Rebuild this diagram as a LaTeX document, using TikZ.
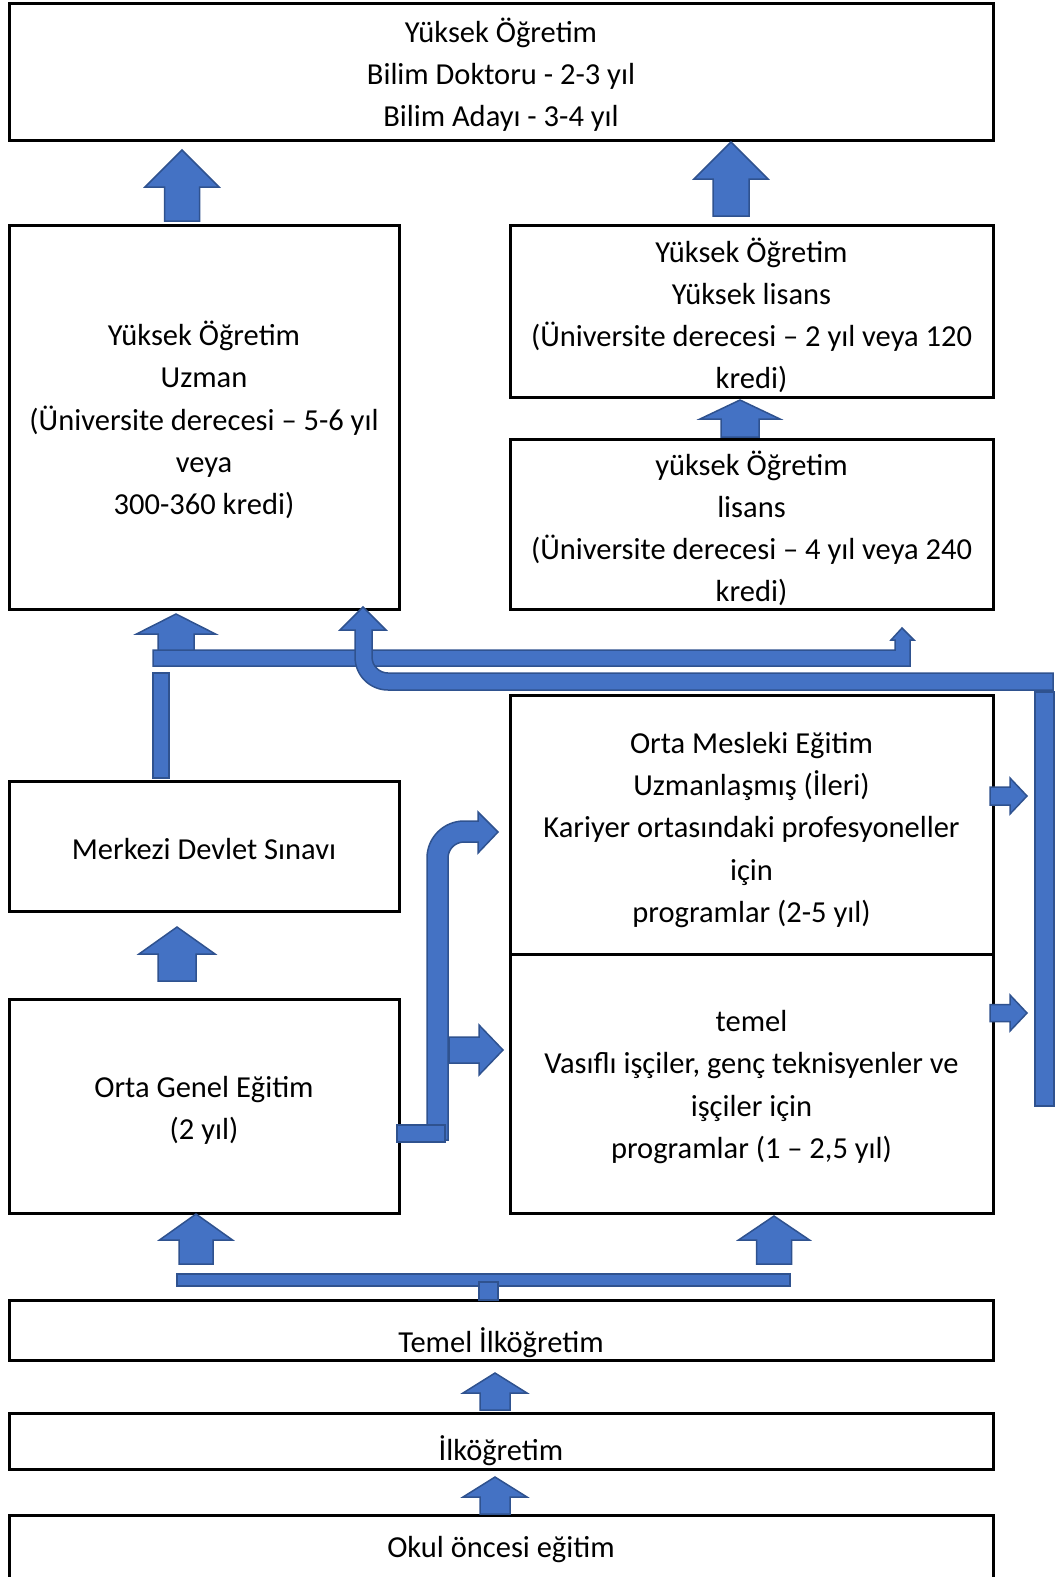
\documentclass[tikz,border=0pt]{standalone}
\usepackage{fontspec}
\setmainfont{Carlito}
\definecolor{arrfill}{HTML}{4472C4}
\definecolor{arrline}{HTML}{2F528F}
\newcommand{\UpBlk}[6]{\draw[blk] ({#1-#4},#6) -- ({#1-#4},#5) -- ({#1-#3},#5) -- (#1,#2) -- ({#1+#3},#5) -- ({#1+#4},#5) -- ({#1+#4},#6) -- cycle;}
\newcommand{\RtBlk}[6]{\draw[blk] (#6,{#1-#4}) -- (#5,{#1-#4}) -- (#5,{#1-#3}) -- (#2,#1) -- (#5,{#1+#3}) -- (#5,{#1+#4}) -- (#6,{#1+#4}) -- cycle;}
\begin{document}
\begin{tikzpicture}[x=1pt,y=-1pt,
  box/.style={draw=black, line width=3pt, inner sep=0pt, outer sep=0pt},
  txt/.style={align=center, inner sep=0pt, font=\fontsize{30.5pt}{42.2pt}\selectfont},
  blk/.style={fill=arrfill, draw=arrline, line width=1.5pt, line join=miter}]
\useasboundingbox (0,0) rectangle (1056,1577);
% boxes
\node[box, minimum width=984pt, minimum height=137pt] (T) at (501,71.5) {};
\node[txt] (Tt) at (501,74.5) {Yüksek Öğretim\\Bilim Doktoru - 2-3 yıl\\Bilim Adayı - 3-4 yıl};
\node[box, minimum width=390pt, minimum height=384pt] (U) at (204,417) {};
\node[txt] (Ut) at (204,420) {Yüksek Öğretim\\Uzman\\(Üniversite derecesi – 5-6 yıl\\veya\\300-360 kredi)};
\node[box, minimum width=483pt, minimum height=172pt] (YL) at (751.5,311) {};
\node[txt] (YLt) at (751.5,315.5) {Yüksek Öğretim\\Yüksek lisans\\(Üniversite derecesi – 2 yıl veya 120\\kredi)};
\node[box, minimum width=483pt, minimum height=170pt] (L) at (751.5,524) {};
\node[txt] (Lt) at (751.5,528.5) {yüksek Öğretim\\lisans\\(Üniversite derecesi – 4 yıl veya 240\\kredi)};
\node[box, minimum width=390pt, minimum height=130pt] (M) at (204,846) {};
\node[txt] (Mt) at (204,849) {Merkezi Devlet Sınavı};
\node[box, minimum width=483pt, minimum height=259pt] (OM) at (751.5,824.5) {};
\node[txt] (OMt) at (751.5,830) {Orta Mesleki Eğitim\\Uzmanlaşmış (İleri)\\Kariyer ortasındaki profesyoneller\\için\\programlar (2-5 yıl)};
\node[box, minimum width=483pt, minimum height=259pt] (TM) at (751.5,1083.5) {};
\node[txt] (TMt) at (751.5,1087) {temel\\Vasıflı işçiler, genç teknisyenler ve\\işçiler için\\programlar (1 – 2,5 yıl)};
\node[box, minimum width=390pt, minimum height=214pt] (OG) at (204,1106) {};
\node[txt] (OGt) at (204,1110) {Orta Genel Eğitim\\(2 yıl)};
\node[box, minimum width=984pt, minimum height=60pt] (TI) at (501,1330) {};
\node[txt] (TIt) at (501,1342.5) {Temel İlköğretim};
\node[box, minimum width=984pt, minimum height=56pt] (IL) at (501,1441) {};
\node[txt] (ILt) at (501,1451) {İlköğretim};
\node[box, minimum width=984pt, minimum height=90pt] (OK) at (501,1560) {};
\node[txt] (OKt) at (501,1550) {Okul öncesi eğitim};
% upper horizontal bar with small up arrow
\draw[blk] (153,650) -- (895,650) -- (895,640) -- (891,640) -- (902,628) -- (914,640) -- (910,640) -- (910,666) -- (153,666) -- cycle;
% vertical bar from Merkezi
\draw[blk] (153,673) rectangle (169,778);
% curved arrow from the right
\draw[blk] (1053,673) -- (388,673) .. controls (379.2,673) and (372,665.8) .. (372,657) -- (372,630) -- (386,630) -- (363,607) -- (340,630) -- (355,630) -- (355,657) .. controls (355,675.2) and (369.8,690) .. (388,690) -- (1053,690) -- cycle;
% right vertical bar
\draw[blk] (1035,692) rectangle (1054,1106);
% up arrows
\UpBlk{182}{150}{37}{17.5}{187}{221}
\UpBlk{731}{142}{37}{18}{179}{216}
\UpBlk{740}{400}{40}{19}{419}{437}
\UpBlk{177}{927}{38}{19}{954}{981}
\UpBlk{176}{614}{39.5}{18}{634}{650}
% right arrows to the vertical bar
\RtBlk{796}{1027}{18}{9}{1010}{990}
\RtBlk{1013}{1027}{18}{8.5}{1010}{990}
% bent arrow from Orta Genel
\draw[blk] (427,1140) -- (427,858) .. controls (427,837.6) and (443.6,821) .. (464,821) -- (478,821) -- (478,812) -- (498,832) -- (478,853) -- (478,842) -- (464,842) .. controls (455.2,842) and (448,849.2) .. (448,858) -- (448,1140) -- cycle;
\draw[blk] (397,1125) rectangle (445,1142);
\RtBlk{1050}{503}{25}{13}{479}{449}
% bottom bar and arrows
\draw[blk] (177,1274) rectangle (790,1286);
\draw[blk] (479,1282) rectangle (498,1300);
\UpBlk{196}{1214}{36.5}{17}{1240}{1264}
\UpBlk{774}{1216}{35.5}{17.5}{1240}{1264}
\UpBlk{495}{1373}{32}{15}{1393}{1410}
\UpBlk{495}{1477}{32}{15}{1497}{1514}
\end{tikzpicture}
\end{document}
